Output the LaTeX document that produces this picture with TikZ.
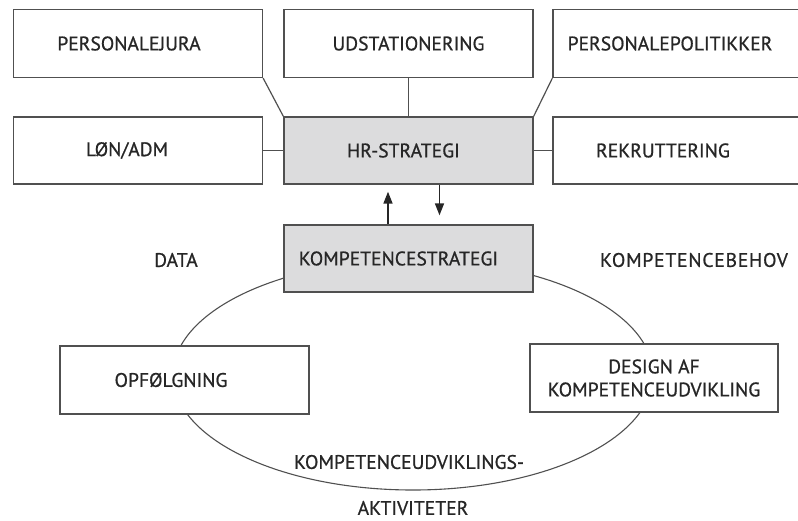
\documentclass[tikz,border=0pt]{standalone}
\usepackage{fontspec}
\setmainfont{PT Sans}[FakeBold=0.8]
\usetikzlibrary{arrows.meta,shapes.geometric}
\definecolor{inkgrey}{HTML}{262626}
\definecolor{linegrey}{HTML}{505050}
\definecolor{boxgrey}{HTML}{DCDCDD}
\begin{document}
\begin{tikzpicture}[x=1pt,y=-1pt,
  every node/.style={font=\fontsize{19.6}{24}\selectfont, text=inkgrey},
  box/.style={draw=linegrey, line width=1.3pt, fill=white, rectangle,
    minimum width=249pt, minimum height=68pt, inner sep=0pt},
  grey box/.style={box, fill=boxgrey},
  link/.style={draw=linegrey, line width=1.2pt},
  flow/.style={draw=inkgrey, line width=1.5pt,
    -{Triangle[width=9pt,length=12pt]}},
  cycleline/.style={draw=linegrey, line width=1.1pt}]
\useasboundingbox (0,0) rectangle (798,520);

% development cycle behind the boxes
\node (cycle) [ellipse, cycleline, minimum width=480pt, minimum height=230pt,
  inner sep=0pt] at (413,375) {};

% top row
\node (pj) [box] at (138,43.5) {\hspace*{-18pt}PERSONALEJURA};
\node (ud) [box] at (408.5,43.5) {UDSTATIONERING};
\node (pp) [box, minimum width=250pt] at (678,43.5) {\hspace*{-16pt}PERSONALEPOLITIKKER};

% middle row
\node (lon) [box, minimum height=67pt] at (138,150.5) {\hspace*{-22pt}LØN/ADM};
\node (hr) [grey box, minimum height=67pt] at (408.5,150.5) {\hspace*{-10pt}HR-STRATEGI};
\node (rek) [box, minimum height=67pt, minimum width=250pt] at (678,150.5) {\hspace*{-30pt}REKRUTTERING};

% competence strategy
\node (komp) [grey box, minimum height=67pt] at (408.5,258.5) {\hspace*{-20pt}KOMPETENCESTRATEGI};

% cycle boxes
\node (opf) [box] at (184.5,380) {\hspace*{-27pt}OPFØLGNING};
\node (des) [box, minimum width=248pt, align=center] at (654,378)
  {DESIGN AF\\[-1pt]KOMPETENCEUDVIKLING};

% free labels
\node (data) at (176,260) {DATA};
\node (behov) at (694,260) {\addfontfeature{LetterSpace=4}KOMPETENCEBEHOV};
\node (akt1) at (409,462) {KOMPETENCEUDVIKLINGS-};
\node (akt2) at (413,508) {AKTIVITETER};

% links to HR strategy
\draw[link] (pj.south east) -- (hr.north west);
\draw[link] (ud.south) -- (hr.north);
\draw[link] (pp.south west) -- (hr.north east);
\draw[link] (lon.east) -- (hr.west);
\draw[link] (rek.west) -- (hr.east);

% exchange between the two strategies
\draw[flow] ([xshift=-20.5pt]komp.north) -- ([xshift=-20.5pt,yshift=-7pt]hr.south);
\draw[flow] ([xshift=31pt]hr.south) -- ([xshift=31pt,yshift=9pt]komp.north);
\end{tikzpicture}
\end{document}
